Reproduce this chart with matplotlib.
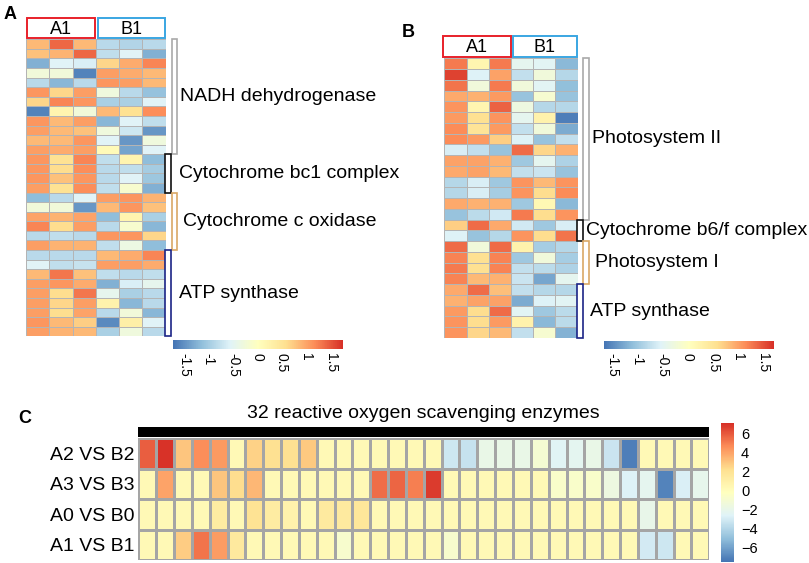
import numpy as np
import matplotlib.pyplot as plt
from matplotlib.colors import LinearSegmentedColormap
from matplotlib.patches import Rectangle

plt.rcParams['font.family'] = ['Liberation Sans', 'DejaVu Sans']

W, H = 809, 563   # figure size in pixels

# pheatmap default palette (rev RdYlBu, 7 colours)
cmap = LinearSegmentedColormap.from_list(
    'rdylbu', ['#4575B4', '#91BFDB', '#E0F3F8', '#FFFFBF', '#FEE090', '#FC8D59', '#D73027'])

###############################################################
# data

samples = ['A1', 'B1']

# panel A : respiratory chain genes, columns A1 x3, B1 x3
a_values = [
    [0.85, 1.4, 0.85, -0.85, -0.9, -0.85],
    [0.8, 0.9, 1.4, -0.8, -0.55, -1.25],
    [-1.25, -0.55, -0.6, 0.65, 0.95, 1.2],
    [-0.25, -0.25, -1.6, 1.05, 0.95, 0.85],
    [-0.85, -1.2, -0.85, 1.1, 1.05, 0.85],
    [1.1, 0.65, 1.05, -0.3, -0.85, -1.1],
    [0.65, 1.2, 1.1, -0.95, -0.95, -0.55],
    [-1.6, 0.2, -0.25, 0.85, 0.55, 1.15],
    [1.1, 0.85, 1.05, -1.2, -0.55, -0.8],
    [1.05, 0.85, 0.8, -0.3, -0.7, -1.45],
    [0.85, 0.85, 1.1, -0.55, -1.45, -0.3],
    [1.05, 0.95, 1.05, 0.1, -1.35, -0.55],
    [1.1, 0.55, 1.2, -0.8, 0.2, -1.15],
    [1.1, 0.6, 1.15, -0.85, -0.8, -1.0],
    [1.1, 0.8, 1.1, -0.85, -0.55, -1.05],
    [1.05, 0.55, 1.15, -0.8, -0.15, -1.25],
    [-1.15, -0.85, -0.55, 1.05, 1.1, 0.9],
    [-0.25, -0.25, -1.45, 0.85, 1.1, 0.8],
    [1.0, 0.9, 1.0, -1.15, 0.2, -0.95],
    [1.2, 0.6, 1.05, -0.85, -0.15, -1.2],
    [-0.85, -0.8, -0.85, 1.1, 1.1, 0.65],
    [1.05, 0.9, 0.9, -0.8, -0.35, -1.15],
    [-0.85, -0.85, -0.85, 0.85, 0.95, 1.2],
    [-0.55, -0.8, -0.75, 1.05, 1.05, 0.95],
    [0.85, 1.3, 0.8, -0.8, -0.85, -0.8],
    [1.05, 1.1, 0.95, -1.25, -0.6, -0.45],
    [1.05, 0.6, 1.3, -0.45, -0.95, -0.85],
    [1.05, 0.65, 1.05, 0.25, -1.2, -0.85],
    [1.05, 0.6, 1.0, -0.85, -0.25, -1.2],
    [1.1, 0.85, 0.7, -1.55, 0.3, -0.55],
    [1.05, 0.9, 0.85, -0.95, -0.3, -0.85],
]
a_groups = ['NADH dehydrogenase', 'Cytochrome bc1 complex', 'Cytochrome c oxidase', 'ATP synthase']
a_sizes = [12, 4, 6, 9]
a_range = (-1.72, 1.74)

# panel B : photosynthesis genes
b_values = [
    [1.25, 0.2, 1.25, -0.45, -0.5, -1.15],
    [1.6, -0.55, 1.0, -0.75, -0.25, -0.85],
    [1.3, -0.25, 1.25, -0.25, -0.5, -1.1],
    [0.95, 0.9, 1.05, -1.05, -0.15, -1.05],
    [1.1, 0.2, 1.4, -0.3, -0.85, -0.85],
    [1.05, 0.55, 1.1, -0.45, 0.25, -1.6],
    [1.15, 0.5, 1.05, -0.75, -0.25, -1.25],
    [1.15, 1.05, 0.7, -0.55, -1.05, -0.75],
    [-0.6, -0.75, -1.05, 1.35, 0.65, 0.9],
    [1.0, 1.0, 0.9, -1.0, -0.45, -0.9],
    [0.95, 1.0, 0.85, -0.75, -0.7, -1.05],
    [-0.85, -0.6, -1.0, 1.1, 0.85, 1.1],
    [-0.85, -0.6, -0.95, 1.1, 0.6, 1.15],
    [0.95, 0.9, 0.9, -1.0, 0.15, -1.15],
    [-1.05, -0.8, -0.65, 1.25, 0.6, 1.1],
    [0.7, 1.35, 0.95, -0.65, -1.0, -0.6],
    [-0.55, -1.05, -0.85, 1.1, 0.6, 1.3],
    [1.35, -0.25, 1.35, 0.25, -0.95, -0.85],
    [1.2, 0.55, 1.2, -1.0, -0.25, -0.95],
    [1.25, 0.55, 1.2, -0.75, -0.8, -0.9],
    [1.2, 0.85, 0.9, -0.7, -1.3, -0.45],
    [0.95, 1.35, 0.8, -0.75, -0.85, -0.85],
    [0.9, 1.0, 1.0, -1.25, -0.55, -0.5],
    [1.05, 0.6, 1.35, -0.5, -1.0, -0.8],
    [1.1, 0.6, 1.05, 0.25, -1.15, -0.8],
    [1.1, 0.65, 0.85, -0.75, -0.15, -1.2],
]
b_groups = ['Photosystem II', 'Cytochrome b6/f complex', 'Photosystem I', 'ATP synthase']
b_sizes = [15, 2, 4, 5]
b_range = (-1.67, 1.71)

# panel C : 32 ROS scavenging enzymes, fold changes
c_rows = ['A2 VS B2', 'A3 VS B3', 'A0 VS B0', 'A1 VS B1']
c_values = [
    [5.9, 7.0, 3.0, 4.6, 4.3, 0.3, 2.6, 2.1, 2.1, 2.9, 0.3, 0.3, 0.3, 0.3, 0.3, 0.3,
     0.3, -3.2, -3.4, -1.9, -1.9, -1.9, -1.0, -2.5, -2.3, -1.9, -3.3, -7.2, 0.3, 0.3, 0.3, 0.3],
    [0.3, 4.0, 0.3, 0.3, 3.0, 2.3, 3.4, 0.3, 0.3, 0.3, 0.3, 0.3, 0.3, 5.5, 5.7, 5.0,
     6.8, 0.3, 0.3, 0.3, 0.3, 0.3, 0.3, -0.7, -0.7, -0.7, -1.6, -2.7, -2.2, -7.0, -2.8, -2.1],
    [0.3, 0.3, 0.3, 0.3, 1.3, 0.3, 2.0, 1.3, 0.8, 0.3, 1.4, 1.4, 1.7, 0.3, 0.3, 0.3,
     0.3, 0.3, 0.3, 0.3, 0.3, 0.3, 0.3, 0.3, 0.3, 0.3, 0.3, 0.3, -2.0, 0.3, 0.3, 0.3],
    [0.3, 0.3, 2.8, 5.3, 4.2, 1.5, 0.3, 0.3, 0.3, 0.3, 0.3, -0.8, 0.3, 0.3, 0.3, 0.3,
     0.3, -0.8, 0.3, 0.3, 0.3, 0.3, 0.3, 0.3, 0.3, 0.3, 0.3, 0.3, -3.0, -3.2, 0.3, 0.3],
]
c_title = '32 reactive oxygen scavenging enzymes'
c_range = (-7.5, 7.1)
c_ticks = [6, 4, 2, 0, -2, -4, -6]

bracket_colors = ['#A9A9A9', '#111111', '#D9A866', '#1B2486']
box_colors = ['#E8202A', '#3AA6E2']

###############################################################

fig = plt.figure(figsize=(W / 100, H / 100), dpi=100)


def px_axes(x0, y0, x1, y1):
    # axes from pixel box (origin top-left)
    return fig.add_axes([x0 / W, 1 - y1 / H, (x1 - x0) / W, (y1 - y0) / H])


def heat(ax, vals, rng, ec, lw):
    vals = np.asarray(vals)
    m = ax.pcolormesh(vals, cmap=cmap, vmin=rng[0], vmax=rng[1], edgecolors=ec, linewidth=lw)
    ax.set_xlim(0, vals.shape[1])
    ax.set_ylim(vals.shape[0], 0)
    return m


def gene_panel(box, vals, groups, sizes, rng, cbar_box, label_dx, inner, outer, head):
    ax = px_axes(*box)
    m = heat(ax, vals, rng, '#B4B4B4', 0.5)
    ax.axis('off')
    ncol = len(vals[0])
    colw = (box[2] - box[0]) / ncol
    rowh = (box[3] - box[1]) / len(vals)

    # sample header boxes
    for k, s in enumerate(samples):
        x0 = k * 3 + head[k][0] / colw
        x1 = (k + 1) * 3 + head[k][1] / colw
        y0, y1 = head[2] / rowh, head[3] / rowh
        ax.add_patch(Rectangle((x0, y0), x1 - x0, y1 - y0, fill=False,
                               edgecolor=box_colors[k], lw=1.4, clip_on=False))
        ax.text((x0 + x1) / 2, (y0 + y1) / 2 + 0.1, s, ha='center', va='center',
                fontsize=13, clip_on=False)

    # group brackets and labels
    start = 0
    for i, (g, n) in enumerate(zip(groups, sizes)):
        off = outer if i % 2 == 0 else inner
        ax.add_patch(Rectangle((ncol + off[0] / colw, start), (off[1] - off[0]) / colw, n,
                               facecolor='white', edgecolor=bracket_colors[i], lw=1.2,
                               clip_on=False))
        ax.text(ncol + label_dx[i] / colw, start + n / 2, g, ha='left', va='center',
                fontsize=14, clip_on=False)
        start += n

    cax = px_axes(*cbar_box)
    cb = fig.colorbar(m, cax=cax, orientation='horizontal')
    cb.outline.set_visible(False)
    cb.set_ticks([-1.5, -1, -0.5, 0, 0.5, 1, 1.5])
    cb.set_ticklabels(['-1.5', '-1', '-0.5', '0', '0.5', '1', '1.5'])
    cax.tick_params(length=0, pad=3, labelsize=10, labelrotation=270)


gene_panel((26, 39.3, 165.7, 336.3), a_values, a_groups, a_sizes, a_range,
           (173.3, 340, 342.7, 349.3), [14.5, 13.5, 17, 13.5],
           (-0.7, 5), (6.6, 11.6), [(0.5, -0.5), (2.6, -0.3), -21, -1])
gene_panel((444.3, 58.3, 577.7, 338), b_values, b_groups, b_sizes, b_range,
           (604, 340.7, 774, 349.3), [14.5, 8.5, 17.5, 12.5],
           (-1, 5.5), (5.3, 11.6), [(-1, -0.5), (2.2, -1), -22.3, -1.6])

# panel C
axc = px_axes(138.3, 438, 709.3, 560)
mc = heat(axc, c_values, c_range, '#A5A5A5', 0.8)
for sp in axc.spines.values():
    sp.set_visible(False)
axc.set_xticks([])
axc.set_yticks(np.arange(len(c_rows)) + 0.5, c_rows)
axc.tick_params(axis='y', length=0, pad=3, labelsize=14)
ncc = len(c_values[0])
axc.add_patch(Rectangle((0, -0.36), ncc, 0.33, facecolor='black', edgecolor='none', clip_on=False))
axc.text(ncc / 2, -0.8, c_title, ha='center', va='center', fontsize=14, clip_on=False)

caxc = px_axes(721, 423.3, 734, 561.7)
cbc = fig.colorbar(mc, cax=caxc)
cbc.outline.set_visible(False)
cbc.set_ticks(c_ticks)
cbc.set_ticklabels([str(t).replace('-', '\u2212') for t in c_ticks])
caxc.tick_params(length=0, pad=5, labelsize=10.5)

# panel letters
fig.text(4 / W, 1 - 6 / H, 'A', fontsize=13, fontweight='bold', va='top')
fig.text(402 / W, 1 - 24 / H, 'B', fontsize=13, fontweight='bold', va='top')
fig.text(18 / W, 1 - 410 / H, 'C', fontsize=13, fontweight='bold', va='top')

fig.savefig('out.png', dpi=100)
